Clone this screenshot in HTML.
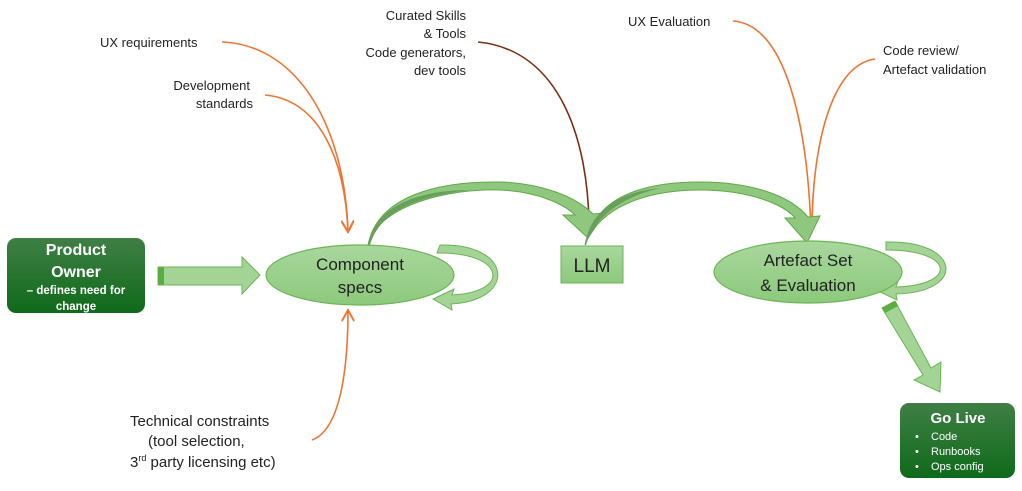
<!DOCTYPE html>
<html><head><meta charset="utf-8"><style>
html,body{margin:0;padding:0;background:#fff;}
svg{display:block;}
text{font-family:"Liberation Sans",sans-serif;fill:#222;}
</style></head><body>
<svg width="1022" height="491" viewBox="0 0 1022 491" xmlns="http://www.w3.org/2000/svg">
<defs>
<linearGradient id="gd" x1="0" y1="0" x2="0" y2="1"><stop offset="0" stop-color="#3f7f45"/><stop offset="1" stop-color="#0f6a1a"/></linearGradient>
<linearGradient id="gl" x1="0" y1="0" x2="0" y2="1"><stop offset="0" stop-color="#a9d79d"/><stop offset="1" stop-color="#8cc97c"/></linearGradient>
<marker id="ao" viewBox="0 0 10 10" refX="9" refY="5" markerWidth="8" markerHeight="8" orient="auto"><path d="M0,0 L9,5 L0,10" fill="none" stroke="#ed7431" stroke-width="1.5"/></marker>
<marker id="ab" viewBox="0 0 10 10" refX="9" refY="5" markerWidth="8" markerHeight="8" orient="auto"><path d="M0,0 L9,5 L0,10" fill="none" stroke="#7b2f12" stroke-width="1.5"/></marker>
</defs>

<g fill="none" stroke="#ed7431" stroke-width="1.6">
<path d="M222,42 C300,45 345,130 348,232" marker-end="url(#ao)"/>
<path d="M265,95 C320,100 345,160 348,232" marker-end="url(#ao)"/>
<path d="M312,440 C340,430 348,370 348,310" marker-end="url(#ao)"/>
<path d="M733,21 C790,25 808,140 811,230" marker-end="url(#ao)"/>
<path d="M875,59 C830,65 812,150 812,230" marker-end="url(#ao)"/>
</g>
<path d="M478,42 C560,50 588,140 589,225" fill="none" stroke="#7b2f12" stroke-width="1.6" marker-end="url(#ab)"/>

<path d="M368,245 C378,205 450,188 500,190 C540,192 565,205 575,215 L563,215 L588,238 L605,213 L593,214 C575,196 540,183 500,182 C440,181 378,195 368,245 Z" fill="#8fc77f" stroke="#5aad43" stroke-width="1"/>
<path d="M370,245 C380,210 420,196 470,190 C420,190 375,205 368,245 Z" fill="#6a9e5c"/>
<path d="M585,245 C600,205 650,190 700,190 C750,190 785,205 795,218 L785,218 L807,243 L820,216 L808,217 C790,195 750,182 700,182 C640,182 595,198 585,245 Z" fill="#8fc77f" stroke="#5aad43" stroke-width="1"/>
<path d="M586,245 C596,212 630,195 660,188 C620,192 590,210 585,245 Z" fill="#6a9e5c"/>

<rect x="7" y="238" width="138" height="75" rx="9" fill="url(#gd)"/>
<g font-weight="bold" text-anchor="middle">
<text x="76" y="255" font-size="16" style="fill:#fff">Product</text>
<text x="76" y="277" font-size="16" style="fill:#fff">Owner</text>
<text x="76" y="294" font-size="11.5" style="fill:#fff">– defines need for</text>
<text x="76" y="310" font-size="11.5" style="fill:#fff">change</text>
</g>

<path d="M158,267 L242,267 L242,257 L260,275 L242,294 L242,285 L158,285 Z" fill="#a3d495" stroke="#6bb556" stroke-width="1"/>
<rect x="158" y="267" width="6" height="18" fill="#5aad43"/>

<path d="M437,253 C505,252 512,292 452,295 L454,289 L433,299 L452,310 L451,304 C518,300 512,243 440,245 Z" fill="#a3d495" stroke="#6bb556" stroke-width="1"/>
<ellipse cx="360" cy="275" rx="94" ry="30" fill="url(#gl)" stroke="#6bb556" stroke-width="1.2"/>
<text x="360" y="270" font-size="17" text-anchor="middle">Component</text>
<text x="360" y="293" font-size="17" text-anchor="middle">specs</text>

<rect x="561" y="246" width="62" height="37" fill="url(#gl)" stroke="#6bb556" stroke-width="1"/>
<text x="592" y="272" font-size="19" text-anchor="middle">LLM</text>

<path d="M886,250 C955,250 958,285 896,287 L898,281 L878,291 L897,300 L896,294 C968,292 960,240 886,242 Z" fill="#a3d495" stroke="#6bb556" stroke-width="1"/>
<ellipse cx="808" cy="272" rx="94" ry="31" fill="url(#gl)" stroke="#6bb556" stroke-width="1.2"/>
<text x="808" y="266" font-size="17" text-anchor="middle">Artefact Set</text>
<text x="808" y="291" font-size="17" text-anchor="middle">&amp; Evaluation</text>

<path d="M882,308 L895,301 L931,368 L941,362 L940,392 L914,380 L923,375 Z" fill="#a3d495" stroke="#6bb556" stroke-width="1"/>
<path d="M882,308 L895,301 L898,306 L885,313 Z" fill="#5aad43"/>

<rect x="900" y="403" width="115" height="75" rx="9" fill="url(#gd)"/>
<text x="958" y="423" font-size="15" font-weight="bold" text-anchor="middle" style="fill:#fff">Go Live</text>
<g font-size="11">
<text x="915" y="440" style="fill:#fff">•</text><text x="931" y="440" style="fill:#fff">Code</text>
<text x="915" y="455" style="fill:#fff">•</text><text x="931" y="455" style="fill:#fff">Runbooks</text>
<text x="915" y="470" style="fill:#fff">•</text><text x="931" y="470" style="fill:#fff">Ops config</text>
</g>

<g font-size="13">
<text x="100" y="47">UX requirements</text>
<text x="250" y="90" text-anchor="end">Development</text>
<text x="253" y="108" text-anchor="end">standards</text>
<text x="466" y="20" text-anchor="end">Curated Skills</text>
<text x="466" y="38" text-anchor="end">&amp; Tools</text>
<text x="466" y="57" text-anchor="end">Code generators,</text>
<text x="466" y="75" text-anchor="end">dev tools</text>
<text x="628" y="26">UX Evaluation</text>
<text x="883" y="55">Code review/</text>
<text x="883" y="74">Artefact validation</text>
</g>
<g font-size="15">
<text x="130" y="426">Technical constraints</text>
<text x="148" y="446">(tool selection,</text>
<text x="130" y="467">3<tspan font-size="9" dy="-6">rd</tspan><tspan dy="6"> party licensing etc)</tspan></text>
</g>
</svg>
</body></html>
